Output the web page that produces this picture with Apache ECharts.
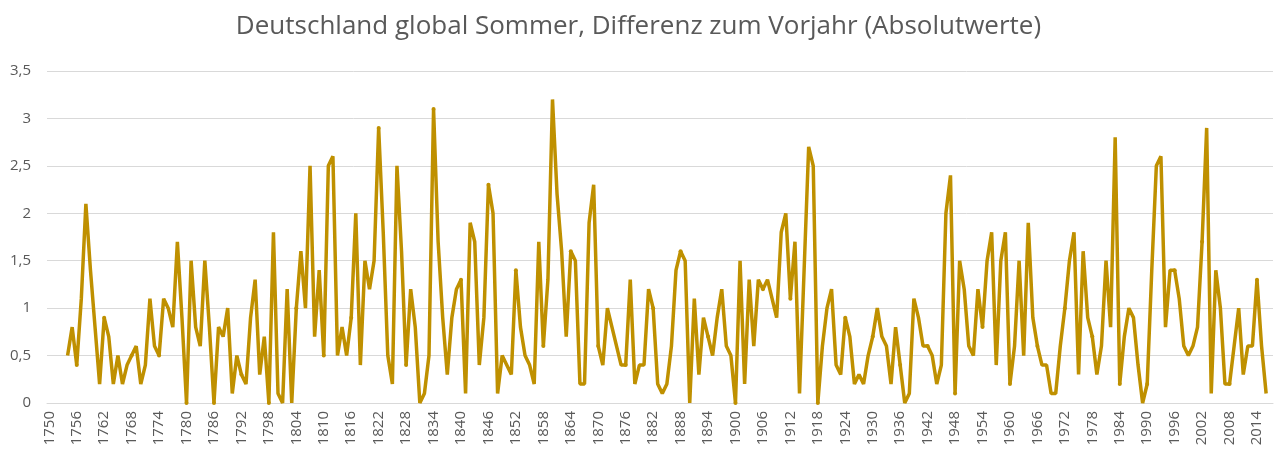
<!DOCTYPE html>
<html>
<head>
<meta charset="utf-8">
<script src="https://cdn.jsdelivr.net/npm/echarts@6/dist/echarts.min.js"></script>
<style>
html,body{margin:0;padding:0;background:#fff;}
#chart{width:1277px;height:455px;}
</style>
</head>
<body>
<div id="chart"></div>
<script>
const titleText = 'Deutschland global Sommer, Differenz zum Vorjahr (Absolutwerte)';
const axisStartYear = 1750;
const axisEndYear = 2017;
const dataStartYear = 1754;
const yTicks = [0, 0.5, 1, 1.5, 2, 2.5, 3, 3.5];

// 1754 .. 1803
const values1754 = [0.5,0.8,0.4,1.1,2.1,1.4,0.8,0.2,0.9,0.7,
                    0.2,0.5,0.2,0.4,0.5,0.6,0.2,0.4,1.1,0.6,
                    0.5,1.1,1.0,0.8,1.7,0.9,0,1.5,0.8,0.6,
                    1.5,0.8,0,0.8,0.7,1.0,0.1,0.5,0.3,0.2,
                    0.9,1.3,0.3,0.7,0,1.8,0.1,0,1.2,0];
// 1804 .. 1853
const values1804 = [1.0,1.6,1.0,2.5,0.7,1.4,0.5,2.5,2.6,0.5,
                    0.8,0.5,0.9,2.0,0.4,1.5,1.2,1.5,2.9,1.8,
                    0.5,0.2,2.5,1.6,0.4,1.2,0.8,0,0.1,0.5,
                    3.1,1.7,0.9,0.3,0.9,1.2,1.3,0.1,1.9,1.7,
                    0.4,0.9,2.3,2.0,0.1,0.5,0.4,0.3,1.4,0.8];
// 1854 .. 1903
const values1854 = [0.5,0.4,0.2,1.7,0.6,1.3,3.2,2.2,1.6,0.7,
                    1.6,1.5,0.2,0.2,1.9,2.3,0.6,0.4,1.0,0.8,
                    0.6,0.4,0.4,1.3,0.2,0.4,0.4,1.2,1.0,0.2,
                    0.1,0.2,0.6,1.4,1.6,1.5,0,1.1,0.3,0.9,
                    0.7,0.5,0.9,1.2,0.6,0.5,0,1.5,0.2,1.3];
// 1904 .. 1953
const values1904 = [0.6,1.3,1.2,1.3,1.1,0.9,1.8,2.0,1.1,1.7,
                    0.1,1.4,2.7,2.5,0,0.6,1.0,1.2,0.4,0.3,
                    0.9,0.7,0.2,0.3,0.2,0.5,0.7,1.0,0.7,0.6,
                    0.2,0.8,0.4,0,0.1,1.1,0.9,0.6,0.6,0.5,
                    0.2,0.4,2.0,2.4,0.1,1.5,1.2,0.6,0.5,1.2];
// 1954 .. 2016
const values1954 = [0.8,1.5,1.8,0.4,1.5,1.8,0.2,0.6,1.5,0.5,
                    1.9,0.9,0.6,0.4,0.4,0.1,0.1,0.6,1.0,1.5,
                    1.8,0.3,1.6,0.9,0.7,0.3,0.6,1.5,0.8,2.8,
                    0.2,0.7,1.0,0.9,0.4,0,0.2,1.4,2.5,2.6,
                    0.8,1.4,1.4,1.1,0.6,0.5,0.6,0.8,1.7,2.9,
                    0.1,1.4,1.0,0.2,0.2,0.6,1.0,0.3,0.6,0.6,
                    1.3,0.6,0.1];

const categories = [];
for (let y = axisStartYear; y <= axisEndYear; y++) categories.push(String(y));
const allValues = values1754.concat(values1804, values1854, values1904, values1954);
const seriesData = categories.map(function (c) {
  const idx = Number(c) - dataStartYear;
  return (idx >= 0 && idx < allValues.length) ? allValues[idx] : null;
});

const chart = echarts.init(document.getElementById('chart'), null, {renderer: 'canvas'});
chart.setOption({
  animation: false,
  backgroundColor: '#ffffff',
  title: {
    text: titleText,
    left: 'center',
    top: 9,
    textStyle: {fontFamily: 'Open Sans', fontSize: 26, fontWeight: 'normal', color: '#595959'}
  },
  grid: {left: 47, right: 4, top: 71, bottom: 52, containLabel: false},
  xAxis: {
    type: 'category',
    data: categories,
    boundaryGap: true,
    axisLine: {show: true, lineStyle: {color: '#d9d9d9', width: 1}},
    axisTick: {show: false},
    axisLabel: {
      interval: 5,
      rotate: 90,
      margin: 8,
      fontFamily: 'Open Sans',
      fontSize: 15,
      color: '#595959'
    },
    splitLine: {show: false}
  },
  yAxis: {
    type: 'value',
    min: yTicks[0],
    max: yTicks[yTicks.length - 1],
    interval: 0.5,
    axisLine: {show: false},
    axisTick: {show: false},
    axisLabel: {
      margin: 16,
      fontFamily: 'Open Sans',
      fontSize: 15,
      color: '#595959',
      formatter: function (v) { return String(v).replace('.', ','); }
    },
    splitLine: {show: true, lineStyle: {color: '#d9d9d9', width: 1}}
  },
  series: [{
    type: 'line',
    data: seriesData,
    connectNulls: false,
    symbol: 'circle',
    symbolSize: 4,
    showSymbol: true,
    lineStyle: {color: '#bf9000', width: 3.5},
    itemStyle: {color: '#bf9000'}
  }]
});
</script>
</body>
</html>
